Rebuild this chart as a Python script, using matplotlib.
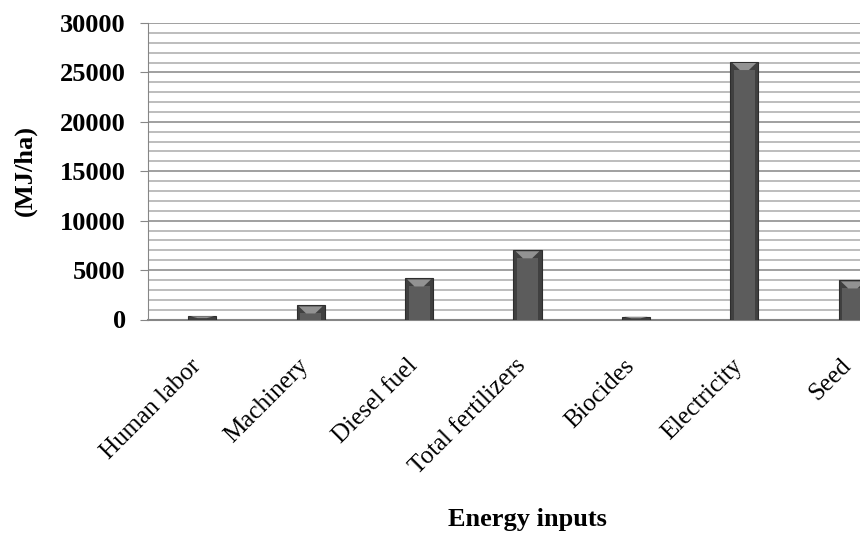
import numpy as np
import matplotlib
matplotlib.use("Agg")
import matplotlib.pyplot as plt
from matplotlib.patches import Polygon
from matplotlib.ticker import MultipleLocator
from matplotlib.transforms import ScaledTranslation

# --- data ---
categories = ["Human labor", "Machinery", "Diesel fuel", "Total fertilizers",
              "Biocides", "Electricity", "Seed"]
energy = [350, 1420, 4150, 7000, 300, 26050, 3950]   # MJ/ha

y_max = 30000
y_major = 5000
y_minor = 1000

plt.rcParams['font.family'] = ['Liberation Serif', 'DejaVu Serif']

fig = plt.figure(figsize=(8.6, 5.33), dpi=100)
# axes runs a bit past the right edge of the figure, like the cropped original
ax = fig.add_axes([148 / 860, 1 - 319.5 / 533, 759 / 860, 296.5 / 533])

x = np.arange(len(categories))
width = 0.26

# grid: light lines every 1000, darker every 5000
ax.yaxis.set_major_locator(MultipleLocator(y_major))
ax.yaxis.set_minor_locator(MultipleLocator(y_minor))
ax.grid(which='minor', axis='y', color='#b8b8b8', linewidth=1.3)
ax.grid(which='major', axis='y', color='#868686', linewidth=1.1)
ax.set_axisbelow(True)

# bars with a simple bevel look
ax.bar(x, energy, width=width, color='#404040', edgecolor='#2e2e2e',
       linewidth=0.8, zorder=3)
px_per_unit = 296.5 / y_max
bevel = 8 / px_per_unit
inner = np.maximum(np.array(energy) - bevel, 0)
ax.bar(x, inner, width=width * 0.74, color='#5c5c5c', linewidth=0, zorder=4)
for xi, v in zip(x, energy):
    b = min(bevel, v * 0.6)
    tri = Polygon([(xi - width * 0.42, v - b * 0.12), (xi + width * 0.42, v - b * 0.12),
                   (xi + width * 0.16, v - b), (xi - width * 0.16, v - b)],
                  closed=True, facecolor='#929292', edgecolor='none', zorder=5)
    ax.add_patch(tri)

ax.set_xlim(-0.5, len(categories) - 0.5)
ax.set_ylim(0, y_max)

ax.set_xticks(x)
ax.set_xticklabels(categories, rotation=45, ha='right', va='center',
                   rotation_mode='anchor', fontsize=18)
ax.tick_params(axis='x', length=0, pad=31)
shift = ScaledTranslation(-5 / 100, 0, fig.dpi_scale_trans)
for lbl in ax.get_xticklabels():
    lbl.set_transform(lbl.get_transform() + shift)
ax.tick_params(axis='y', which='major', length=6, color='#868686', pad=10,
               labelsize=19)
ax.tick_params(axis='y', which='minor', length=0)
for lbl in ax.get_yticklabels():
    lbl.set_fontweight('bold')

for side in ['top', 'right']:
    ax.spines[side].set_visible(False)
ax.spines['left'].set_color('#868686')
ax.spines['bottom'].set_color('#868686')
ax.spines['bottom'].set_linewidth(1.5)

fig.text(25 / 860, 1 - 170 / 533, '(MJ/ha)', rotation=90, ha='center',
         va='center', fontsize=19, fontweight='bold')
fig.text(527 / 860, 7 / 533, 'Energy inputs', ha='center', va='baseline',
         fontsize=19, fontweight='bold')

fig.savefig('out.png', dpi=100)
plt.close(fig)
